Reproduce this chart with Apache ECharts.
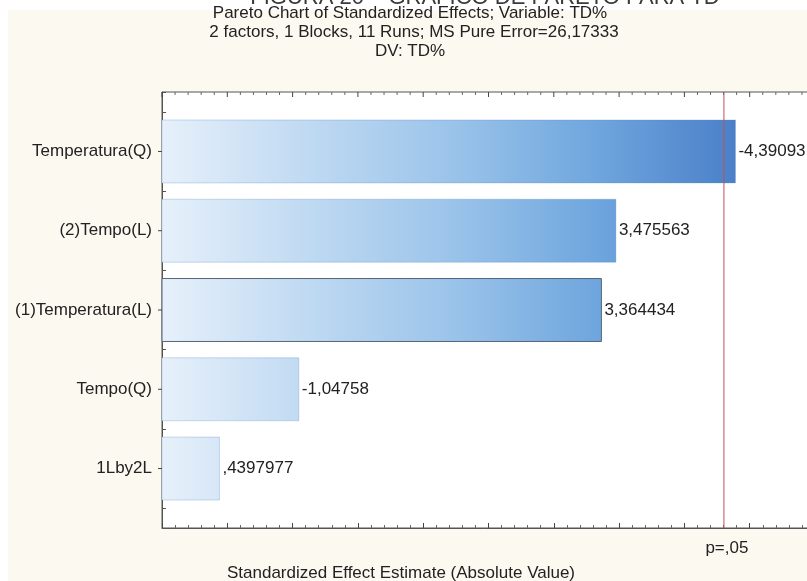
<!DOCTYPE html>
<html>
<head>
<meta charset="utf-8">
<script src="https://cdn.jsdelivr.net/npm/echarts@6/dist/echarts.min.js"></script>
<style>
  html, body { margin: 0; padding: 0; background: #ffffff; }
  #chart { width: 807px; height: 581px; }
</style>
</head>
<body>
<div id="chart"></div>
<script>
// Pareto chart of standardized effects (response TD%)
const factors = ['Temperatura(Q)', '(2)Tempo(L)', '(1)Temperatura(L)', 'Tempo(Q)', '1Lby2L'];
const effects = [-4.39093, 3.475563, 3.364434, -1.04758, 0.4397977];
const pCritical = 4.302653;      // t critical value, alpha = 0.05
const pLabel = 'p=,05';
const figureCaption = 'FIGURA 20 – GRÁFICO DE PARETO PARA TD';
const titleLines = [
  'Pareto Chart of Standardized Effects; Variable: TD%',
  '2 factors, 1 Blocks, 11 Runs; MS Pure Error=26,17333',
  'DV: TD%'
];
const xAxisTitle = 'Standardized Effect Estimate (Absolute Value)';
const xRange = { min: 0, max: 5, interval: 0.5, minorSplit: 5 };
const yRange = { min: -0.75, max: 4.75, interval: 0.25 };
const highlighted = 2;           // outlined bar

const FONT = '"Liberation Sans", Arial, sans-serif';
const maxAbs = Math.max(...effects.map(Math.abs));

// Statistica-style number text: comma decimal, no leading zero
function fmt(v) {
  return String(v).replace('.', ',').replace(/^(-?)0,/, '$1,');
}

const barData = effects.map((v, i) => [Math.abs(v), i, v]);

// tick positions mirrored on the top frame edge: [value, isMajor]
const topTicks = [];
(function () {
  const step = xRange.interval / xRange.minorSplit;
  const n = Math.round((xRange.max - xRange.min) / step);
  for (let k = 0; k <= n; k++) {
    topTicks.push([+(xRange.min + k * step).toFixed(6), k % xRange.minorSplit === 0 ? 1 : 0]);
  }
})();

const chart = echarts.init(document.getElementById('chart'), null, { renderer: 'canvas' });

const axisLineStyle = { color: '#555555', width: 1 };

function textItem(x, y, text, size, align, vAlign, color) {
  return {
    type: 'text', z: 2, x: x, y: y,
    style: { text: text, font: size + 'px ' + FONT, fill: color || '#222', textAlign: align, textVerticalAlign: vAlign }
  };
}

chart.setOption({
  backgroundColor: '#fcf9f1',
  animation: false,
  graphic: [
    { type: 'rect', z: 1, shape: { x: 0, y: 0, width: 807, height: 10 }, style: { fill: '#ffffff' } },
    { type: 'rect', z: 1, shape: { x: 0, y: 0, width: 8, height: 581 }, style: { fill: '#ffffff' } },
    textItem(485, 9, figureCaption, 22, 'center', 'bottom', '#3a3a3a'),
    textItem(410, 13, titleLines[0], 17, 'center', 'middle'),
    textItem(414, 32, titleLines[1], 17, 'center', 'middle'),
    textItem(410, 51, titleLines[2], 17, 'center', 'middle'),
    textItem(401, 573, xAxisTitle, 17, 'center', 'middle')
  ],
  grid: {
    left: 162, top: 92, width: 653, bottom: 53,
    outerBoundsMode: 'none', containLabel: false,
    show: true, backgroundColor: '#ffffff', borderColor: '#555555', borderWidth: 1
  },
  xAxis: {
    type: 'value',
    position: 'bottom',
    min: xRange.min,
    max: xRange.max,
    interval: xRange.interval,
    axisLine: { show: true, onZero: false, lineStyle: axisLineStyle },
    axisTick: { show: true, inside: true, length: 5, lineStyle: { color: '#444' } },
    minorTick: { show: true, splitNumber: xRange.minorSplit, length: 3, lineStyle: { color: '#666' } },
    axisLabel: { show: false },
    splitLine: { show: false },
    minorSplitLine: { show: false }
  },
  yAxis: {
    type: 'value',
    inverse: true,
    min: yRange.min,
    max: yRange.max,
    interval: yRange.interval,
    axisLine: { show: true, onZero: false, lineStyle: axisLineStyle },
    axisTick: { show: true, inside: true, length: 4, lineStyle: { color: '#555' } },
    splitLine: { show: false },
    axisLabel: {
      margin: 10,
      color: '#222',
      fontFamily: FONT,
      fontSize: 17,
      formatter: v => (Number.isInteger(v) && factors[v] !== undefined) ? factors[v] : ''
    }
  },
  series: [
    {
      type: 'custom',
      name: 'effects',
      data: barData,
      encode: { x: 0, y: 1 },
      renderItem: function (params, api) {
        const v = api.value(0);
        const idx = api.value(1);
        const raw = api.value(2);
        const a = api.coord([0, idx - 0.397]);
        const b = api.coord([v, idx + 0.397]);
        const g0 = api.coord([0, idx]);
        const g1 = api.coord([maxAbs, idx]);
        const fill = new echarts.graphic.LinearGradient(g0[0], 0, g1[0], 0, [
          { offset: 0, color: '#e6f0fa' },
          { offset: 0.25, color: '#c0daf2' },
          { offset: 0.5, color: '#9cc4ea' },
          { offset: 0.75, color: '#70a7de' },
          { offset: 1, color: '#4a80c8' }
        ], true);
        const y0 = Math.min(a[1], b[1]);
        const h = Math.abs(b[1] - a[1]);
        return {
          type: 'group',
          children: [
            {
              type: 'rect',
              shape: { x: a[0], y: y0, width: b[0] - a[0], height: h },
              style: {
                fill: fill,
                stroke: idx === highlighted ? '#56657a' : 'rgba(90,140,200,0.3)',
                lineWidth: 1
              }
            },
            {
              // short outward tick beside the category label
              type: 'line',
              shape: { x1: g0[0] - 4, y1: g0[1], x2: g0[0], y2: g0[1] },
              style: { stroke: '#444', lineWidth: 1 }
            },
            {
              type: 'text',
              x: b[0] + 3,
              y: y0 + h / 2,
              style: {
                text: fmt(raw),
                font: '17px ' + FONT,
                fill: '#222',
                textAlign: 'left',
                textVerticalAlign: 'middle'
              }
            }
          ]
        };
      }
    },
    {
      type: 'custom',
      name: 'top-ticks',
      silent: true,
      data: topTicks.map(t => [t[0], yRange.min, t[1]]),
      encode: { x: 0 },
      renderItem: function (params, api) {
        const p = api.coord([api.value(0), api.value(1)]);
        const len = api.value(2) ? 5 : 3;
        return {
          type: 'line',
          shape: { x1: p[0], y1: p[1], x2: p[0], y2: p[1] + len },
          style: { stroke: api.value(2) ? '#444' : '#666', lineWidth: 1 }
        };
      }
    },
    {
      type: 'custom',
      name: 'p-limit',
      data: [[pCritical, yRange.min, yRange.max]],
      encode: { x: 0 },
      renderItem: function (params, api) {
        const p = api.value(0);
        const top = api.coord([p, api.value(1)]);
        const bot = api.coord([p, api.value(2)]);
        return {
          type: 'group',
          children: [
            {
              type: 'line',
              shape: { x1: top[0], y1: top[1], x2: bot[0], y2: bot[1] },
              style: { stroke: '#c0505a', lineWidth: 1 }
            },
            {
              type: 'text',
              x: bot[0] + 3,
              y: Math.max(top[1], bot[1]) + 20,
              style: {
                text: pLabel,
                font: '17px ' + FONT,
                fill: '#222',
                textAlign: 'center',
                textVerticalAlign: 'middle'
              }
            }
          ]
        };
      }
    }
  ]
});
</script>
</body>
</html>
